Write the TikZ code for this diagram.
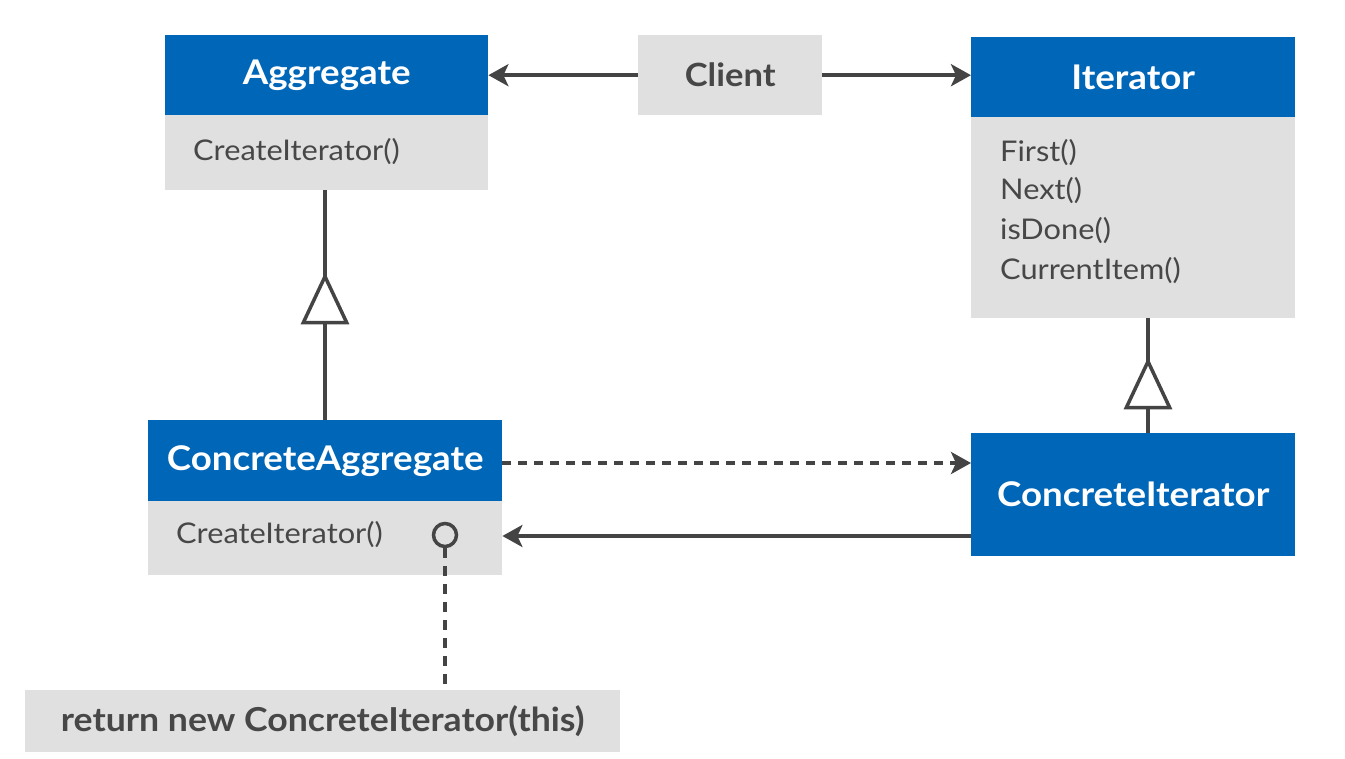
\documentclass[tikz,border=0pt]{standalone}
\usepackage{fontspec}
\setmainfont[FakeStretch=1.08]{Lato}
\usetikzlibrary{arrows.meta,decorations.markings}
\definecolor{hblue}{HTML}{0066B8}
\definecolor{bgray}{HTML}{E0E0E0}
\definecolor{lgray}{HTML}{444444}
\definecolor{tgray}{HTML}{474747}
\tikzset{
  hdr/.style={fill=hblue, text=white, inner sep=0pt, anchor=north west,
    font=\fontsize{34}{40}\selectfont\bfseries},
  bodybox/.style={fill=bgray, inner sep=0pt, anchor=north west},
  member/.style={text=tgray, inner sep=0pt, anchor=west,
    font=\fontsize{28.5}{34}\selectfont},
  conn/.style={draw=lgray, line width=4pt},
  tip/.style={-{Stealth[length=20pt,width=22pt,inset=5pt]}},
  dashline/.style={dash pattern=on 9pt off 7pt},
  genmark/.style={postaction={decorate}, decoration={markings,
     mark=at position #1 with {\arrow[line width=3.5pt]{Triangle[length=52pt,width=48pt,fill=white]}}}}
}
\begin{document}
\begin{tikzpicture}[x=1pt,y=-1pt]
\useasboundingbox[fill=white] (0,0) rectangle (1345,759);

% Aggregate
\node[hdr, minimum width=323pt, minimum height=80pt] (agg) at (165,35) {Aggregate};
\node[bodybox, minimum width=323pt, minimum height=75pt] (aggb) at (165,115) {};
\node[member] (aggm) at (193,152) {CreateIterator()};

% Client
\node[fill=bgray, text=tgray, inner sep=0pt, anchor=north west, minimum width=184pt, minimum height=80pt,
  font=\fontsize{32}{38}\selectfont\bfseries] (cl) at (638,35) {Client};

% Iterator
\node[hdr, minimum width=324pt, minimum height=80pt] (it) at (971,37) {Iterator};
\node[bodybox, minimum width=324pt, minimum height=201pt] (itb) at (971,117) {};
\node[member] (itm1) at (1000,153) {First()};
\node[member] (itm2) at (1000,191) {Next()};
\node[member] (itm3) at (1000,231) {isDone()};
\node[member] (itm4) at (1000,271) {CurrentItem()};

% ConcreteAggregate
\node[hdr, minimum width=354pt, minimum height=81pt] (ca) at (148,420) {ConcreteAggregate};
\node[bodybox, minimum width=354pt, minimum height=74pt] (cab) at (148,501) {};
\node[member] (cam) at (176,535) {CreateIterator()};
\node[circle, draw=lgray, line width=3.5pt, minimum size=23pt, inner sep=0pt] (lol) at (445,535) {};

% ConcreteIterator
\node[hdr, minimum width=324pt, minimum height=123pt] (ci) at (971,433) {ConcreteIterator};

% Note
\node[fill=bgray, text=tgray, inner sep=0pt, anchor=north west, minimum width=595pt, minimum height=62pt,
  font=\fontsize{33}{38}\selectfont\bfseries] (note) at (25,690) {return new ConcreteIterator(this)};

% connectors
\draw[conn, tip] (cl.west) -- (agg.east |- cl.west);
\draw[conn, tip] (cl.east) -- (it.west |- cl.east);

\draw[conn, genmark=0.643] (ca.north -| 325,0) -- (aggb.south -| 325,0);
\draw[conn, genmark=0.66] (ci.north -| 1148,0) -- (itb.south -| 1148,0);

\draw[conn, dashline, tip] (ca.east |- 0,463) -- (ci.west |- 0,463);
\draw[conn, tip] (ci.west |- 0,536) -- (cab.east |- 0,536);

\draw[conn, dash pattern=on 10pt off 8pt] (lol.south) -- (note.north -| lol.south);
\end{tikzpicture}
\end{document}
